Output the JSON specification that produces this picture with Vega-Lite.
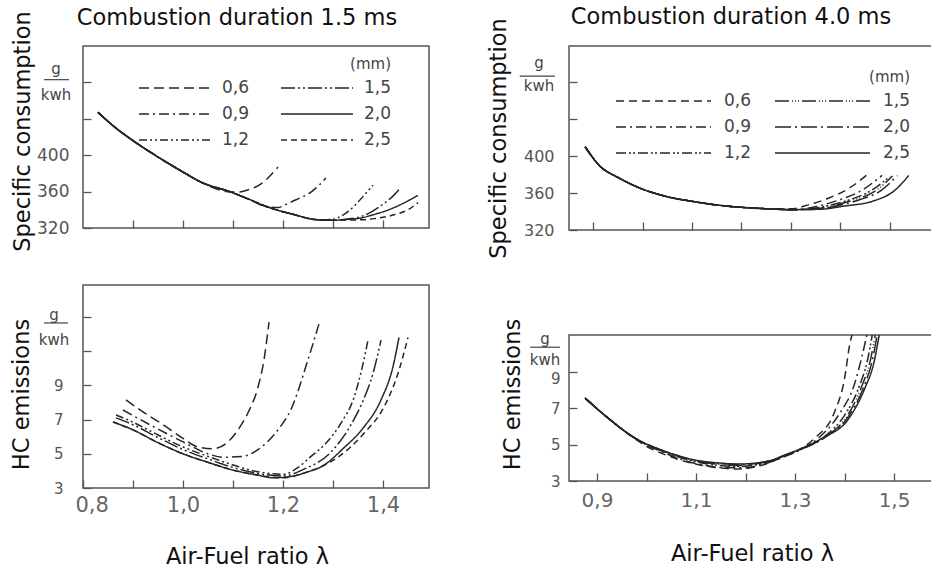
{
  "$schema": "https://vega.github.io/schema/vega-lite/v6.json",
  "background": "white",
  "padding": {"left": 9, "top": 5, "right": 0, "bottom": 0},
  "spacing": 56,
  "resolve": {"scale": {"x": "independent", "y": "independent", "strokeDash": "independent"}, "legend": {"strokeDash": "independent"}},
  "datasets": {
    "tl": [
      {"lam": 0.83, "v": 447, "gap": "0,6"}, {"lam": 0.87, "v": 428, "gap": "0,6"}, {"lam": 0.9, "v": 416, "gap": "0,6"}, {"lam": 0.95, "v": 398, "gap": "0,6"}, {"lam": 1.0, "v": 381.5, "gap": "0,6"}, {"lam": 1.036, "v": 370.4, "gap": "0,6"}, {"lam": 1.096, "v": 359.5, "gap": "0,6"}, {"lam": 1.11, "v": 359.5, "gap": "0,6"}, {"lam": 1.13, "v": 362, "gap": "0,6"}, {"lam": 1.152, "v": 367, "gap": "0,6"}, {"lam": 1.17, "v": 375, "gap": "0,6"}, {"lam": 1.19, "v": 387, "gap": "0,6"},
      {"lam": 0.83, "v": 447, "gap": "0,9"}, {"lam": 0.87, "v": 428, "gap": "0,9"}, {"lam": 0.9, "v": 416, "gap": "0,9"}, {"lam": 0.95, "v": 398, "gap": "0,9"}, {"lam": 1.0, "v": 381.5, "gap": "0,9"}, {"lam": 1.036, "v": 370.4, "gap": "0,9"}, {"lam": 1.096, "v": 359.5, "gap": "0,9"}, {"lam": 1.13, "v": 352, "gap": "0,9"}, {"lam": 1.17, "v": 343, "gap": "0,9"}, {"lam": 1.19, "v": 342.5, "gap": "0,9"}, {"lam": 1.206, "v": 346, "gap": "0,9"}, {"lam": 1.226, "v": 351, "gap": "0,9"}, {"lam": 1.256, "v": 359.5, "gap": "0,9"}, {"lam": 1.272, "v": 367, "gap": "0,9"}, {"lam": 1.286, "v": 375, "gap": "0,9"},
      {"lam": 0.83, "v": 447, "gap": "1,2"}, {"lam": 0.87, "v": 428, "gap": "1,2"}, {"lam": 0.9, "v": 416, "gap": "1,2"}, {"lam": 0.95, "v": 398, "gap": "1,2"}, {"lam": 1.0, "v": 381.5, "gap": "1,2"}, {"lam": 1.036, "v": 370.4, "gap": "1,2"}, {"lam": 1.096, "v": 359.5, "gap": "1,2"}, {"lam": 1.13, "v": 352, "gap": "1,2"}, {"lam": 1.17, "v": 343, "gap": "1,2"}, {"lam": 1.22, "v": 335, "gap": "1,2"}, {"lam": 1.27, "v": 329, "gap": "1,2"}, {"lam": 1.3, "v": 329.5, "gap": "1,2"}, {"lam": 1.316, "v": 333, "gap": "1,2"}, {"lam": 1.33, "v": 338, "gap": "1,2"}, {"lam": 1.346, "v": 346, "gap": "1,2"}, {"lam": 1.362, "v": 356, "gap": "1,2"}, {"lam": 1.38, "v": 367, "gap": "1,2"},
      {"lam": 0.83, "v": 447, "gap": "1,5"}, {"lam": 0.87, "v": 428, "gap": "1,5"}, {"lam": 0.9, "v": 416, "gap": "1,5"}, {"lam": 0.95, "v": 398, "gap": "1,5"}, {"lam": 1.0, "v": 381.5, "gap": "1,5"}, {"lam": 1.036, "v": 370.4, "gap": "1,5"}, {"lam": 1.096, "v": 359.5, "gap": "1,5"}, {"lam": 1.13, "v": 352, "gap": "1,5"}, {"lam": 1.17, "v": 343, "gap": "1,5"}, {"lam": 1.22, "v": 335, "gap": "1,5"}, {"lam": 1.27, "v": 329, "gap": "1,5"}, {"lam": 1.3, "v": 328.5, "gap": "1,5"}, {"lam": 1.33, "v": 330, "gap": "1,5"}, {"lam": 1.356, "v": 332.5, "gap": "1,5"}, {"lam": 1.376, "v": 337.5, "gap": "1,5"}, {"lam": 1.402, "v": 347, "gap": "1,5"}, {"lam": 1.42, "v": 355, "gap": "1,5"}, {"lam": 1.432, "v": 362, "gap": "1,5"},
      {"lam": 0.83, "v": 447, "gap": "2,0"}, {"lam": 0.87, "v": 428, "gap": "2,0"}, {"lam": 0.9, "v": 416, "gap": "2,0"}, {"lam": 0.95, "v": 398, "gap": "2,0"}, {"lam": 1.0, "v": 381.5, "gap": "2,0"}, {"lam": 1.036, "v": 370.4, "gap": "2,0"}, {"lam": 1.096, "v": 359.5, "gap": "2,0"}, {"lam": 1.13, "v": 352, "gap": "2,0"}, {"lam": 1.17, "v": 343, "gap": "2,0"}, {"lam": 1.22, "v": 335, "gap": "2,0"}, {"lam": 1.27, "v": 329, "gap": "2,0"}, {"lam": 1.3, "v": 328.5, "gap": "2,0"}, {"lam": 1.33, "v": 329.5, "gap": "2,0"}, {"lam": 1.356, "v": 331, "gap": "2,0"}, {"lam": 1.38, "v": 334.5, "gap": "2,0"}, {"lam": 1.41, "v": 339.7, "gap": "2,0"}, {"lam": 1.44, "v": 347, "gap": "2,0"}, {"lam": 1.47, "v": 356, "gap": "2,0"},
      {"lam": 0.83, "v": 447, "gap": "2,5"}, {"lam": 0.87, "v": 428, "gap": "2,5"}, {"lam": 0.9, "v": 416, "gap": "2,5"}, {"lam": 0.95, "v": 398, "gap": "2,5"}, {"lam": 1.0, "v": 381.5, "gap": "2,5"}, {"lam": 1.036, "v": 370.4, "gap": "2,5"}, {"lam": 1.096, "v": 359.5, "gap": "2,5"}, {"lam": 1.13, "v": 352, "gap": "2,5"}, {"lam": 1.17, "v": 343, "gap": "2,5"}, {"lam": 1.22, "v": 335, "gap": "2,5"}, {"lam": 1.27, "v": 329, "gap": "2,5"}, {"lam": 1.3, "v": 328.5, "gap": "2,5"}, {"lam": 1.33, "v": 328.8, "gap": "2,5"}, {"lam": 1.36, "v": 329, "gap": "2,5"}, {"lam": 1.385, "v": 330.5, "gap": "2,5"}, {"lam": 1.422, "v": 334.5, "gap": "2,5"}, {"lam": 1.45, "v": 340, "gap": "2,5"}, {"lam": 1.47, "v": 348, "gap": "2,5"}
    ],
    "tr": [
      {"lam": 0.884, "v": 410, "gap": "0,6"}, {"lam": 0.914, "v": 389, "gap": "0,6"}, {"lam": 0.95, "v": 377, "gap": "0,6"}, {"lam": 0.983, "v": 368, "gap": "0,6"}, {"lam": 1.05, "v": 356, "gap": "0,6"}, {"lam": 1.1, "v": 351, "gap": "0,6"}, {"lam": 1.15, "v": 347, "gap": "0,6"}, {"lam": 1.2, "v": 344.5, "gap": "0,6"}, {"lam": 1.25, "v": 343, "gap": "0,6"}, {"lam": 1.3, "v": 343, "gap": "0,6"}, {"lam": 1.34, "v": 348, "gap": "0,6"}, {"lam": 1.377, "v": 354.6, "gap": "0,6"}, {"lam": 1.417, "v": 365, "gap": "0,6"}, {"lam": 1.458, "v": 381.6, "gap": "0,6"},
      {"lam": 0.884, "v": 410, "gap": "0,9"}, {"lam": 0.914, "v": 389, "gap": "0,9"}, {"lam": 0.95, "v": 377, "gap": "0,9"}, {"lam": 0.983, "v": 368, "gap": "0,9"}, {"lam": 1.05, "v": 356, "gap": "0,9"}, {"lam": 1.1, "v": 351, "gap": "0,9"}, {"lam": 1.15, "v": 347, "gap": "0,9"}, {"lam": 1.2, "v": 344.5, "gap": "0,9"}, {"lam": 1.25, "v": 343, "gap": "0,9"}, {"lam": 1.3, "v": 342, "gap": "0,9"}, {"lam": 1.32, "v": 342.5, "gap": "0,9"}, {"lam": 1.36, "v": 346.5, "gap": "0,9"}, {"lam": 1.4, "v": 353, "gap": "0,9"}, {"lam": 1.44, "v": 362, "gap": "0,9"}, {"lam": 1.484, "v": 379, "gap": "0,9"},
      {"lam": 0.884, "v": 410, "gap": "1,2"}, {"lam": 0.914, "v": 389, "gap": "1,2"}, {"lam": 0.95, "v": 377, "gap": "1,2"}, {"lam": 0.983, "v": 368, "gap": "1,2"}, {"lam": 1.05, "v": 356, "gap": "1,2"}, {"lam": 1.1, "v": 351, "gap": "1,2"}, {"lam": 1.15, "v": 347, "gap": "1,2"}, {"lam": 1.2, "v": 344.5, "gap": "1,2"}, {"lam": 1.25, "v": 343, "gap": "1,2"}, {"lam": 1.3, "v": 342, "gap": "1,2"}, {"lam": 1.33, "v": 342.5, "gap": "1,2"}, {"lam": 1.38, "v": 347, "gap": "1,2"}, {"lam": 1.42, "v": 353, "gap": "1,2"}, {"lam": 1.46, "v": 362, "gap": "1,2"}, {"lam": 1.5, "v": 378, "gap": "1,2"},
      {"lam": 0.884, "v": 410, "gap": "1,5"}, {"lam": 0.914, "v": 389, "gap": "1,5"}, {"lam": 0.95, "v": 377, "gap": "1,5"}, {"lam": 0.983, "v": 368, "gap": "1,5"}, {"lam": 1.05, "v": 356, "gap": "1,5"}, {"lam": 1.1, "v": 351, "gap": "1,5"}, {"lam": 1.15, "v": 347, "gap": "1,5"}, {"lam": 1.2, "v": 344.5, "gap": "1,5"}, {"lam": 1.25, "v": 343, "gap": "1,5"}, {"lam": 1.3, "v": 342, "gap": "1,5"}, {"lam": 1.34, "v": 342.5, "gap": "1,5"}, {"lam": 1.39, "v": 347, "gap": "1,5"}, {"lam": 1.43, "v": 353, "gap": "1,5"}, {"lam": 1.47, "v": 362, "gap": "1,5"}, {"lam": 1.505, "v": 378.5, "gap": "1,5"},
      {"lam": 0.884, "v": 410, "gap": "2,0"}, {"lam": 0.914, "v": 389, "gap": "2,0"}, {"lam": 0.95, "v": 377, "gap": "2,0"}, {"lam": 0.983, "v": 368, "gap": "2,0"}, {"lam": 1.05, "v": 356, "gap": "2,0"}, {"lam": 1.1, "v": 351, "gap": "2,0"}, {"lam": 1.15, "v": 347, "gap": "2,0"}, {"lam": 1.2, "v": 344.5, "gap": "2,0"}, {"lam": 1.25, "v": 343, "gap": "2,0"}, {"lam": 1.3, "v": 342, "gap": "2,0"}, {"lam": 1.35, "v": 342.5, "gap": "2,0"}, {"lam": 1.4, "v": 347, "gap": "2,0"}, {"lam": 1.44, "v": 353, "gap": "2,0"}, {"lam": 1.48, "v": 362, "gap": "2,0"}, {"lam": 1.515, "v": 379, "gap": "2,0"},
      {"lam": 0.884, "v": 410, "gap": "2,5"}, {"lam": 0.914, "v": 389, "gap": "2,5"}, {"lam": 0.95, "v": 377, "gap": "2,5"}, {"lam": 0.983, "v": 368, "gap": "2,5"}, {"lam": 1.05, "v": 356, "gap": "2,5"}, {"lam": 1.1, "v": 351, "gap": "2,5"}, {"lam": 1.15, "v": 347, "gap": "2,5"}, {"lam": 1.2, "v": 344.5, "gap": "2,5"}, {"lam": 1.25, "v": 343, "gap": "2,5"}, {"lam": 1.3, "v": 342, "gap": "2,5"}, {"lam": 1.36, "v": 342.5, "gap": "2,5"}, {"lam": 1.409, "v": 346, "gap": "2,5"}, {"lam": 1.464, "v": 351, "gap": "2,5"}, {"lam": 1.51, "v": 363, "gap": "2,5"}, {"lam": 1.538, "v": 379, "gap": "2,5"}
    ],
    "bl": [
      {"lam": 0.886, "v": 8.15, "gap": "0,6"}, {"lam": 0.92, "v": 7.45, "gap": "0,6"}, {"lam": 0.96, "v": 6.7, "gap": "0,6"}, {"lam": 1.0, "v": 5.9, "gap": "0,6"}, {"lam": 1.03, "v": 5.4, "gap": "0,6"}, {"lam": 1.06, "v": 5.3, "gap": "0,6"}, {"lam": 1.09, "v": 5.7, "gap": "0,6"}, {"lam": 1.11, "v": 6.4, "gap": "0,6"}, {"lam": 1.13, "v": 7.4, "gap": "0,6"}, {"lam": 1.15, "v": 8.9, "gap": "0,6"}, {"lam": 1.162, "v": 10.5, "gap": "0,6"}, {"lam": 1.172, "v": 12.7, "gap": "0,6"},
      {"lam": 0.88, "v": 7.56, "gap": "0,9"}, {"lam": 0.94, "v": 6.6, "gap": "0,9"}, {"lam": 1.0, "v": 5.7, "gap": "0,9"}, {"lam": 1.05, "v": 5.0, "gap": "0,9"}, {"lam": 1.08, "v": 4.8, "gap": "0,9"}, {"lam": 1.12, "v": 4.85, "gap": "0,9"}, {"lam": 1.15, "v": 5.25, "gap": "0,9"}, {"lam": 1.19, "v": 6.4, "gap": "0,9"}, {"lam": 1.216, "v": 7.6, "gap": "0,9"}, {"lam": 1.25, "v": 10.5, "gap": "0,9"}, {"lam": 1.272, "v": 12.6, "gap": "0,9"},
      {"lam": 0.866, "v": 7.27, "gap": "1,2"}, {"lam": 0.9, "v": 6.85, "gap": "1,2"}, {"lam": 0.95, "v": 6.1, "gap": "1,2"}, {"lam": 1.0, "v": 5.4, "gap": "1,2"}, {"lam": 1.05, "v": 4.85, "gap": "1,2"}, {"lam": 1.1, "v": 4.35, "gap": "1,2"}, {"lam": 1.15, "v": 3.95, "gap": "1,2"}, {"lam": 1.2, "v": 3.8, "gap": "1,2"}, {"lam": 1.23, "v": 4.2, "gap": "1,2"}, {"lam": 1.256, "v": 4.85, "gap": "1,2"}, {"lam": 1.282, "v": 5.5, "gap": "1,2"}, {"lam": 1.316, "v": 6.8, "gap": "1,2"}, {"lam": 1.342, "v": 8.3, "gap": "1,2"}, {"lam": 1.358, "v": 10.0, "gap": "1,2"}, {"lam": 1.37, "v": 11.65, "gap": "1,2"},
      {"lam": 0.866, "v": 7.1, "gap": "1,5"}, {"lam": 0.9, "v": 6.7, "gap": "1,5"}, {"lam": 0.95, "v": 5.95, "gap": "1,5"}, {"lam": 1.0, "v": 5.25, "gap": "1,5"}, {"lam": 1.05, "v": 4.7, "gap": "1,5"}, {"lam": 1.1, "v": 4.2, "gap": "1,5"}, {"lam": 1.15, "v": 3.85, "gap": "1,5"}, {"lam": 1.2, "v": 3.7, "gap": "1,5"}, {"lam": 1.242, "v": 4.1, "gap": "1,5"}, {"lam": 1.296, "v": 5.1, "gap": "1,5"}, {"lam": 1.336, "v": 6.7, "gap": "1,5"}, {"lam": 1.36, "v": 8.1, "gap": "1,5"}, {"lam": 1.38, "v": 9.7, "gap": "1,5"}, {"lam": 1.396, "v": 11.65, "gap": "1,5"},
      {"lam": 0.86, "v": 6.86, "gap": "2,0"}, {"lam": 0.9, "v": 6.4, "gap": "2,0"}, {"lam": 0.95, "v": 5.65, "gap": "2,0"}, {"lam": 1.0, "v": 5.0, "gap": "2,0"}, {"lam": 1.05, "v": 4.5, "gap": "2,0"}, {"lam": 1.1, "v": 4.05, "gap": "2,0"}, {"lam": 1.15, "v": 3.75, "gap": "2,0"}, {"lam": 1.18, "v": 3.6, "gap": "2,0"}, {"lam": 1.21, "v": 3.65, "gap": "2,0"}, {"lam": 1.25, "v": 3.95, "gap": "2,0"}, {"lam": 1.28, "v": 4.3, "gap": "2,0"}, {"lam": 1.32, "v": 5.3, "gap": "2,0"}, {"lam": 1.36, "v": 6.5, "gap": "2,0"}, {"lam": 1.396, "v": 8.15, "gap": "2,0"}, {"lam": 1.42, "v": 10.1, "gap": "2,0"}, {"lam": 1.432, "v": 11.8, "gap": "2,0"},
      {"lam": 0.86, "v": 6.86, "gap": "2,5"}, {"lam": 0.9, "v": 6.4, "gap": "2,5"}, {"lam": 0.95, "v": 5.65, "gap": "2,5"}, {"lam": 1.0, "v": 5.0, "gap": "2,5"}, {"lam": 1.05, "v": 4.5, "gap": "2,5"}, {"lam": 1.1, "v": 4.05, "gap": "2,5"}, {"lam": 1.15, "v": 3.75, "gap": "2,5"}, {"lam": 1.2, "v": 3.6, "gap": "2,5"}, {"lam": 1.24, "v": 3.85, "gap": "2,5"}, {"lam": 1.28, "v": 4.3, "gap": "2,5"}, {"lam": 1.31, "v": 4.8, "gap": "2,5"}, {"lam": 1.362, "v": 6.2, "gap": "2,5"}, {"lam": 1.402, "v": 7.74, "gap": "2,5"}, {"lam": 1.43, "v": 9.7, "gap": "2,5"}, {"lam": 1.45, "v": 11.8, "gap": "2,5"}
    ],
    "br": [
      {"lam": 0.876, "v": 7.54, "gap": "0,6"}, {"lam": 0.92, "v": 6.5, "gap": "0,6"}, {"lam": 0.977, "v": 5.3, "gap": "0,6"}, {"lam": 0.997, "v": 4.95, "gap": "0,6"}, {"lam": 1.052, "v": 4.3, "gap": "0,6"}, {"lam": 1.132, "v": 3.77, "gap": "0,6"}, {"lam": 1.187, "v": 3.66, "gap": "0,6"}, {"lam": 1.227, "v": 3.82, "gap": "0,6"}, {"lam": 1.27, "v": 4.25, "gap": "0,6"}, {"lam": 1.3, "v": 4.6, "gap": "0,6"}, {"lam": 1.34, "v": 5.35, "gap": "0,6"}, {"lam": 1.38, "v": 6.8, "gap": "0,6"}, {"lam": 1.4, "v": 8.6, "gap": "0,6"}, {"lam": 1.41, "v": 10.4, "gap": "0,6"}, {"lam": 1.415, "v": 11, "gap": "0,6"},
      {"lam": 0.876, "v": 7.54, "gap": "0,9"}, {"lam": 0.92, "v": 6.5, "gap": "0,9"}, {"lam": 0.977, "v": 5.33, "gap": "0,9"}, {"lam": 1.04, "v": 4.5, "gap": "0,9"}, {"lam": 1.1, "v": 3.95, "gap": "0,9"}, {"lam": 1.15, "v": 3.75, "gap": "0,9"}, {"lam": 1.19, "v": 3.72, "gap": "0,9"}, {"lam": 1.24, "v": 3.95, "gap": "0,9"}, {"lam": 1.28, "v": 4.35, "gap": "0,9"}, {"lam": 1.31, "v": 4.7, "gap": "0,9"}, {"lam": 1.345, "v": 5.3, "gap": "0,9"}, {"lam": 1.39, "v": 6.7, "gap": "0,9"}, {"lam": 1.42, "v": 8.3, "gap": "0,9"}, {"lam": 1.435, "v": 9.8, "gap": "0,9"}, {"lam": 1.445, "v": 11, "gap": "0,9"},
      {"lam": 0.876, "v": 7.54, "gap": "1,2"}, {"lam": 0.92, "v": 6.5, "gap": "1,2"}, {"lam": 0.977, "v": 5.34, "gap": "1,2"}, {"lam": 1.04, "v": 4.55, "gap": "1,2"}, {"lam": 1.1, "v": 4.05, "gap": "1,2"}, {"lam": 1.15, "v": 3.85, "gap": "1,2"}, {"lam": 1.19, "v": 3.8, "gap": "1,2"}, {"lam": 1.24, "v": 4.0, "gap": "1,2"}, {"lam": 1.28, "v": 4.38, "gap": "1,2"}, {"lam": 1.31, "v": 4.7, "gap": "1,2"}, {"lam": 1.36, "v": 5.45, "gap": "1,2"}, {"lam": 1.4, "v": 6.6, "gap": "1,2"}, {"lam": 1.43, "v": 8.2, "gap": "1,2"}, {"lam": 1.447, "v": 9.7, "gap": "1,2"}, {"lam": 1.456, "v": 11, "gap": "1,2"},
      {"lam": 0.876, "v": 7.54, "gap": "1,5"}, {"lam": 0.92, "v": 6.5, "gap": "1,5"}, {"lam": 0.977, "v": 5.35, "gap": "1,5"}, {"lam": 1.04, "v": 4.58, "gap": "1,5"}, {"lam": 1.1, "v": 4.1, "gap": "1,5"}, {"lam": 1.15, "v": 3.9, "gap": "1,5"}, {"lam": 1.19, "v": 3.85, "gap": "1,5"}, {"lam": 1.24, "v": 4.05, "gap": "1,5"}, {"lam": 1.28, "v": 4.4, "gap": "1,5"}, {"lam": 1.31, "v": 4.72, "gap": "1,5"}, {"lam": 1.36, "v": 5.4, "gap": "1,5"}, {"lam": 1.405, "v": 6.55, "gap": "1,5"}, {"lam": 1.435, "v": 8.2, "gap": "1,5"}, {"lam": 1.452, "v": 9.6, "gap": "1,5"}, {"lam": 1.462, "v": 11, "gap": "1,5"},
      {"lam": 0.876, "v": 7.54, "gap": "2,0"}, {"lam": 0.92, "v": 6.5, "gap": "2,0"}, {"lam": 0.977, "v": 5.35, "gap": "2,0"}, {"lam": 1.04, "v": 4.6, "gap": "2,0"}, {"lam": 1.1, "v": 4.12, "gap": "2,0"}, {"lam": 1.15, "v": 3.95, "gap": "2,0"}, {"lam": 1.19, "v": 3.9, "gap": "2,0"}, {"lam": 1.25, "v": 4.1, "gap": "2,0"}, {"lam": 1.28, "v": 4.4, "gap": "2,0"}, {"lam": 1.31, "v": 4.73, "gap": "2,0"}, {"lam": 1.36, "v": 5.38, "gap": "2,0"}, {"lam": 1.407, "v": 6.5, "gap": "2,0"}, {"lam": 1.438, "v": 8.1, "gap": "2,0"}, {"lam": 1.456, "v": 9.6, "gap": "2,0"}, {"lam": 1.466, "v": 11, "gap": "2,0"},
      {"lam": 0.876, "v": 7.54, "gap": "2,5"}, {"lam": 0.92, "v": 6.5, "gap": "2,5"}, {"lam": 0.977, "v": 5.35, "gap": "2,5"}, {"lam": 1.04, "v": 4.6, "gap": "2,5"}, {"lam": 1.098, "v": 4.15, "gap": "2,5"}, {"lam": 1.15, "v": 3.98, "gap": "2,5"}, {"lam": 1.187, "v": 3.93, "gap": "2,5"}, {"lam": 1.254, "v": 4.15, "gap": "2,5"}, {"lam": 1.274, "v": 4.37, "gap": "2,5"}, {"lam": 1.31, "v": 4.75, "gap": "2,5"}, {"lam": 1.355, "v": 5.35, "gap": "2,5"}, {"lam": 1.409, "v": 6.44, "gap": "2,5"}, {"lam": 1.441, "v": 8.08, "gap": "2,5"}, {"lam": 1.46, "v": 9.56, "gap": "2,5"}, {"lam": 1.47, "v": 11, "gap": "2,5"}
    ]
  },
  "hconcat": [
    {
      "bounds": "flush",
      "spacing": 57,
      "resolve": {"scale": {"x": "independent", "y": "independent", "strokeDash": "independent"}, "legend": {"strokeDash": "independent"}},
      "vconcat": [
        {
          "title": {"text": "Combustion duration 1.5 ms", "dx": -19, "offset": -19},
          "width": 346,
          "height": 182,
          "layer": [
            {
              "data": {"name": "tl"},
              "mark": {"type": "line", "interpolate": "monotone", "color": "#262626", "strokeWidth": 1.5},
              "encoding": {
                "x": {"field": "lam", "type": "quantitative", "scale": {"domain": [0.8, 1.492], "nice": false, "zero": false}, "axis": {"values": [0.9, 1.0, 1.1, 1.2, 1.3, 1.4], "labels": false, "title": null}},
                "y": {"field": "v", "type": "quantitative", "scale": {"domain": [320, 520], "nice": false, "zero": false}, "axis": {"values": [320, 360, 400, 440, 480], "labelExpr": "datum.value <= 400 ? datum.label : ''", "labelFontSize": 17, "labelPadding": 22, "title": "Specific consumption", "titleX": -49, "titleY": 85}},
                "strokeDash": {"field": "gap", "type": "nominal", "scale": {"domain": ["0,6", "0,9", "1,2", "1,5", "2,0", "2,5"], "range": [[10, 5], [10, 4, 2, 4], [8, 3, 2, 3, 2, 3], [14, 3, 2, 3, 2, 3], [1, 0], [6, 4]]}, "legend": {"title": "(mm)", "orient": "none", "legendX": 55, "legendY": 11, "columns": 2, "symbolType": "M-1,0H6.2", "symbolSize": 400, "labelOffset": 62, "columnPadding": 28, "rowPadding": 7}}
              }
            },
            {"data": {"values": [{}]}, "mark": {"type": "text", "text": "g", "fontSize": 15, "color": "#444"}, "encoding": {"x": {"datum": 0.746}, "y": {"datum": 495}}},
            {"data": {"values": [{}]}, "mark": {"type": "text", "text": "kwh", "fontSize": 15, "color": "#444"}, "encoding": {"x": {"datum": 0.746}, "y": {"datum": 466}}},
            {"data": {"values": [{}]}, "mark": {"type": "rule", "color": "#444", "strokeWidth": 1.2}, "encoding": {"x": {"datum": 0.722}, "x2": {"datum": 0.772}, "y": {"datum": 483}}}
          ]
        },
        {
          "width": 346,
          "height": 203,
          "layer": [
            {
              "data": {"name": "bl"},
              "mark": {"type": "line", "interpolate": "monotone", "color": "#262626", "strokeWidth": 1.5},
              "encoding": {
                "x": {"field": "lam", "type": "quantitative", "scale": {"domain": [0.8, 1.492], "nice": false, "zero": false}, "axis": {"values": [0.8, 0.9, 1.0, 1.1, 1.2, 1.3, 1.4], "labelExpr": "round(datum.value * 10) % 2 == 0 ? replace(format(datum.value, '.1f'), '.', ',') : ''", "labelFontSize": 21, "labelColor": "#666", "labelPadding": 14, "labelFlushOffset": 8, "title": "Air-Fuel ratio λ", "titleX": 164, "titleY": 57, "titleBaseline": "top"}},
                "y": {"field": "v", "type": "quantitative", "scale": {"domain": [3, 14.87], "nice": false, "zero": false}, "axis": {"values": [3, 5, 7, 9, 11, 13], "labelExpr": "datum.value <= 9 ? datum.label : ''", "labelFontSize": 15, "labelPadding": 28, "title": "HC emissions", "titleX": -50, "titleY": 109}},
                "strokeDash": {"field": "gap", "type": "nominal", "scale": {"domain": ["0,6", "0,9", "1,2", "1,5", "2,0", "2,5"], "range": [[10, 5], [10, 4, 2, 4], [8, 3, 2, 3, 2, 3], [14, 3, 2, 3, 2, 3], [1, 0], [6, 4]]}, "legend": null}
              }
            },
            {"data": {"values": [{}]}, "mark": {"type": "text", "text": "g", "fontSize": 15, "color": "#444"}, "encoding": {"x": {"datum": 0.742}, "y": {"datum": 13.1}}},
            {"data": {"values": [{}]}, "mark": {"type": "text", "text": "kwh", "fontSize": 15, "color": "#444"}, "encoding": {"x": {"datum": 0.742}, "y": {"datum": 11.65}}},
            {"data": {"values": [{}]}, "mark": {"type": "rule", "color": "#444", "strokeWidth": 1.2}, "encoding": {"x": {"datum": 0.722}, "x2": {"datum": 0.77}, "y": {"datum": 12.65}}}
          ]
        }
      ]
    },
    {
      "bounds": "flush",
      "spacing": 105,
      "resolve": {"scale": {"x": "independent", "y": "independent", "strokeDash": "independent"}, "legend": {"strokeDash": "independent"}},
      "vconcat": [
        {
          "title": {"text": "Combustion duration 4.0 ms", "dx": -22, "offset": -11},
          "width": 368,
          "height": 184,
          "layer": [
            {
              "data": {"name": "tr"},
              "mark": {"type": "line", "interpolate": "monotone", "color": "#262626", "strokeWidth": 1.5},
              "encoding": {
                "x": {"field": "lam", "type": "quantitative", "scale": {"domain": [0.8515, 1.595], "nice": false, "zero": false}, "axis": {"values": [0.9, 1.0, 1.1, 1.2, 1.3, 1.4, 1.5], "labels": false, "title": null}},
                "y": {"field": "v", "type": "quantitative", "scale": {"domain": [320, 519], "nice": false, "zero": false}, "axis": {"values": [320, 360, 400, 440, 480], "labelExpr": "datum.value <= 400 ? datum.label : ''", "labelFontSize": 16, "labelPadding": 23, "title": "Specific consumption", "titleX": -59, "titleY": 92}},
                "strokeDash": {"field": "gap", "type": "nominal", "scale": {"domain": ["0,6", "0,9", "1,2", "1,5", "2,0", "2,5"], "range": [[8, 5], [10, 4, 2, 4], [10, 3, 2, 2, 2, 3], [14, 3, 1, 2, 1, 2, 1, 3], [16, 4, 2, 4], [1, 0]]}, "legend": {"title": "(mm)", "orient": "none", "legendX": 46, "legendY": 24, "columns": 2, "symbolType": "M-1,0H8.5", "symbolSize": 400, "labelOffset": 87, "columnPadding": 20, "rowPadding": 7}}
              }
            },
            {"data": {"values": [{}]}, "mark": {"type": "text", "text": "g", "fontSize": 15, "color": "#444"}, "encoding": {"x": {"datum": 0.791}, "y": {"datum": 500.5}}},
            {"data": {"values": [{}]}, "mark": {"type": "text", "text": "kwh", "fontSize": 15, "color": "#444"}, "encoding": {"x": {"datum": 0.791}, "y": {"datum": 475.7}}},
            {"data": {"values": [{}]}, "mark": {"type": "rule", "color": "#444", "strokeWidth": 1.2}, "encoding": {"x": {"datum": 0.752}, "x2": {"datum": 0.823}, "y": {"datum": 486.5}}}
          ]
        },
        {
          "width": 368,
          "height": 146,
          "layer": [
            {
              "data": {"name": "br"},
              "mark": {"type": "line", "interpolate": "monotone", "color": "#262626", "strokeWidth": 1.5},
              "encoding": {
                "x": {"field": "lam", "type": "quantitative", "scale": {"domain": [0.8434, 1.5868], "nice": false, "zero": false}, "axis": {"values": [0.9, 1.0, 1.1, 1.2, 1.3, 1.4, 1.5], "labelExpr": "round(datum.value * 10) % 2 == 1 ? replace(format(datum.value, '.1f'), '.', ',') : ''", "labelFontSize": 20, "labelColor": "#666", "labelPadding": 17, "title": "Air-Fuel ratio  λ", "titleX": 183, "titleY": 61, "titleBaseline": "top"}},
                "y": {"field": "v", "type": "quantitative", "scale": {"domain": [3, 11], "nice": false, "zero": false}, "axis": {"values": [3, 5, 7, 9], "labelFontSize": 15, "labelPadding": 17, "labelBaseline": {"condition": {"test": "datum.value == 9", "value": "top"}, "value": "middle"}, "title": "HC emissions", "titleX": -45, "titleY": 59}},
                "strokeDash": {"field": "gap", "type": "nominal", "scale": {"domain": ["0,6", "0,9", "1,2", "1,5", "2,0", "2,5"], "range": [[8, 5], [10, 4, 2, 4], [10, 3, 2, 2, 2, 3], [14, 3, 1, 2, 1, 2, 1, 3], [16, 4, 2, 4], [1, 0]]}, "legend": null}
              }
            },
            {"data": {"values": [{}]}, "mark": {"type": "text", "text": "g", "fontSize": 15, "color": "#444"}, "encoding": {"x": {"datum": 0.795}, "y": {"datum": 10.8}}},
            {"data": {"values": [{}]}, "mark": {"type": "text", "text": "kwh", "fontSize": 15, "color": "#444"}, "encoding": {"x": {"datum": 0.795}, "y": {"datum": 9.62}}},
            {"data": {"values": [{}]}, "mark": {"type": "rule", "color": "#444", "strokeWidth": 1.2}, "encoding": {"x": {"datum": 0.765}, "x2": {"datum": 0.825}, "y": {"datum": 10.33}}}
          ]
        }
      ]
    }
  ],
  "config": {
    "font": "DejaVu Sans",
    "view": {"stroke": "#555", "strokeWidth": 1.5},
    "title": {"fontSize": 22.5, "fontWeight": "normal", "font": "DejaVu Sans", "color": "#111"},
    "axis": {"domain": false, "grid": false, "tickColor": "#555", "tickWidth": 1.3, "tickSize": -8, "labelColor": "#555", "labelFont": "DejaVu Sans", "titleFont": "DejaVu Sans", "titleFontSize": 22.5, "titleFontWeight": "normal", "titleColor": "#111"},
    "legend": {"symbolStrokeColor": "#262626", "symbolStrokeWidth": 1.5, "labelFontSize": 17, "labelColor": "#444", "labelFont": "DejaVu Sans", "titleFontSize": 15, "titleFontWeight": "normal", "titleColor": "#444", "titleAnchor": "end"}
  }
}
